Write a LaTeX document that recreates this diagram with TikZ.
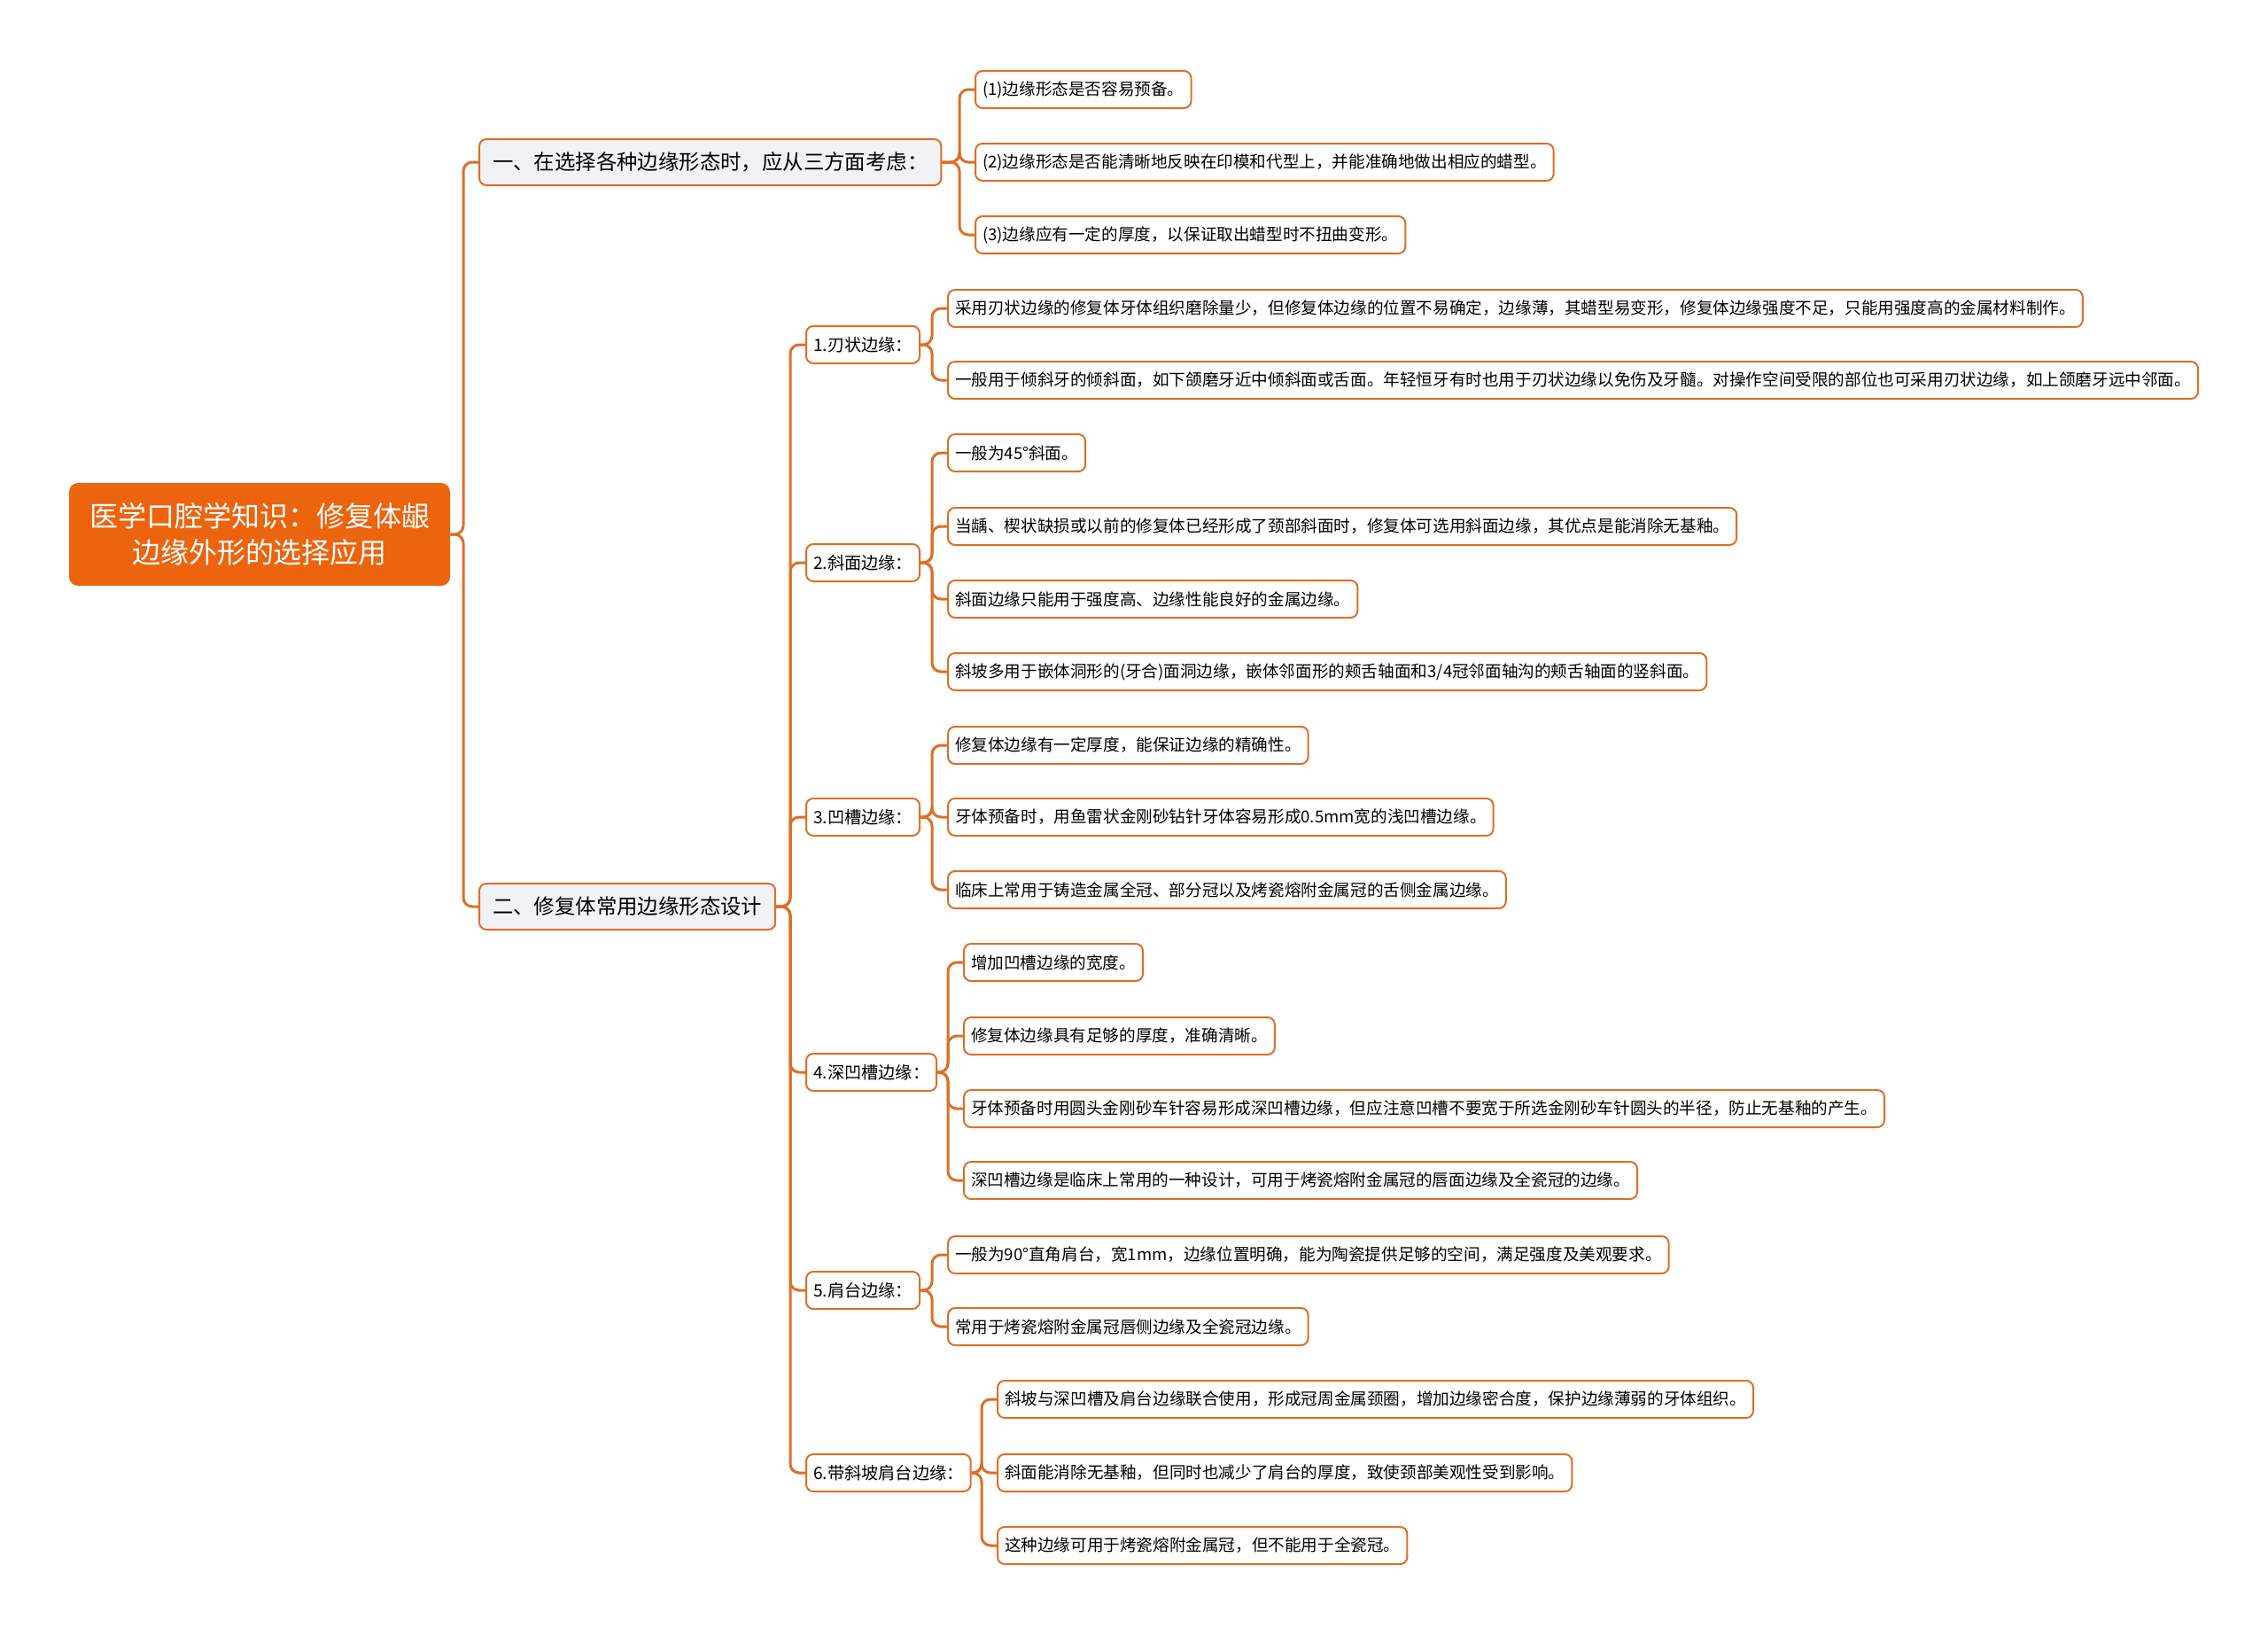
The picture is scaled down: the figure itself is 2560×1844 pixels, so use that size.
\documentclass[tikz,border=0pt]{standalone}
\usepackage{fontspec}
\setmainfont{Noto Sans CJK SC}
\usepackage{tikz}

\definecolor{lineorange}{RGB}{222,110,38}
\definecolor{rootorange}{RGB}{236,100,14}
\definecolor{branchgray}{RGB}{240,242,245}

\tikzset{
    rootbox/.style={fill=rootorange, text=white, rounded corners=5pt,
        minimum width=215pt, minimum height=58pt, align=center,
        font=\fontsize{16}{20.5}\selectfont},
    branchbox/.style={draw=lineorange, fill=branchgray, line width=1pt,
        rounded corners=4pt, minimum height=26pt, inner xsep=7.5pt, anchor=west,
        font=\fontsize{11.7}{14}\selectfont},
    subbox/.style={draw=lineorange, fill=white, line width=1pt,
        rounded corners=4pt, minimum height=21pt, inner xsep=4pt, anchor=west,
        font=\fontsize{9.6}{12}\selectfont},
    leafbox/.style={subbox, font=\fontsize{9.3}{12}\selectfont},
    link/.style={draw=lineorange, line width=1.5pt, rounded corners=5pt},
}

\begin{document}
\begin{tikzpicture}[x=0.5pt, y=-0.5pt]
    \useasboundingbox (0,0) rectangle (2560,1844);

    % root and main branches
    \node[rootbox] (root) at (293,603) {医学口腔学知识：修复体龈\\边缘外形的选择应用};
    \node[branchbox] (b1) at (540,183) {一、在选择各种边缘形态时，应从三方面考虑：};
    \node[branchbox] (b2) at (540,1023) {二、修复体常用边缘形态设计};

    % first branch
    \node[leafbox] (l11) at (1100,101) {(1)边缘形态是否容易预备。};
    \node[leafbox] (l12) at (1100,183) {(2)边缘形态是否能清晰地反映在印模和代型上，并能准确地做出相应的蜡型。};
    \node[leafbox] (l13) at (1100,265) {(3)边缘应有一定的厚度，以保证取出蜡型时不扭曲变形。};

    % kinds of margins
    \node[subbox] (s1) at (909,389) {1.刃状边缘：};
    \node[subbox] (s2) at (909,635) {2.斜面边缘：};
    \node[subbox] (s3) at (909,922) {3.凹槽边缘：};
    \node[subbox] (s4) at (909,1210) {4.深凹槽边缘：};
    \node[subbox] (s5) at (909,1456) {5.肩台边缘：};
    \node[subbox] (s6) at (909,1662) {6.带斜坡肩台边缘：};

    \node[leafbox] (l1a) at (1069,348) {采用刃状边缘的修复体牙体组织磨除量少，但修复体边缘的位置不易确定，边缘薄，其蜡型易变形，修复体边缘强度不足，只能用强度高的金属材料制作。};
    \node[leafbox] (l1b) at (1069,429) {一般用于倾斜牙的倾斜面，如下颌磨牙近中倾斜面或舌面。年轻恒牙有时也用于刃状边缘以免伤及牙髓。对操作空间受限的部位也可采用刃状边缘，如上颌磨牙远中邻面。};

    \node[leafbox] (l2a) at (1069,511) {一般为45°斜面。};
    \node[leafbox] (l2b) at (1069,594) {当龋、楔状缺损或以前的修复体已经形成了颈部斜面时，修复体可选用斜面边缘，其优点是能消除无基釉。};
    \node[leafbox] (l2c) at (1069,676) {斜面边缘只能用于强度高、边缘性能良好的金属边缘。};
    \node[leafbox] (l2d) at (1069,758) {斜坡多用于嵌体洞形的(牙合)面洞边缘，嵌体邻面形的颊舌轴面和3/4冠邻面轴沟的颊舌轴面的竖斜面。};

    \node[leafbox] (l3a) at (1069,841) {修复体边缘有一定厚度，能保证边缘的精确性。};
    \node[leafbox] (l3b) at (1069,922) {牙体预备时，用鱼雷状金刚砂钻针牙体容易形成0.5mm宽的浅凹槽边缘。};
    \node[leafbox] (l3c) at (1069,1004) {临床上常用于铸造金属全冠、部分冠以及烤瓷熔附金属冠的舌侧金属边缘。};

    \node[leafbox] (l4a) at (1087,1086) {增加凹槽边缘的宽度。};
    \node[leafbox] (l4b) at (1087,1169) {修复体边缘具有足够的厚度，准确清晰。};
    \node[leafbox] (l4c) at (1087,1251) {牙体预备时用圆头金刚砂车针容易形成深凹槽边缘，但应注意凹槽不要宽于所选金刚砂车针圆头的半径，防止无基釉的产生。};
    \node[leafbox] (l4d) at (1087,1332) {深凹槽边缘是临床上常用的一种设计，可用于烤瓷熔附金属冠的唇面边缘及全瓷冠的边缘。};

    \node[leafbox] (l5a) at (1069,1416) {一般为90°直角肩台，宽1mm，边缘位置明确，能为陶瓷提供足够的空间，满足强度及美观要求。};
    \node[leafbox] (l5b) at (1069,1497) {常用于烤瓷熔附金属冠唇侧边缘及全瓷冠边缘。};

    \node[leafbox] (l6a) at (1125,1579) {斜坡与深凹槽及肩台边缘联合使用，形成冠周金属颈圈，增加边缘密合度，保护边缘薄弱的牙体组织。};
    \node[leafbox] (l6b) at (1125,1662) {斜面能消除无基釉，但同时也减少了肩台的厚度，致使颈部美观性受到影响。};
    \node[leafbox] (l6c) at (1125,1744) {这种边缘可用于烤瓷熔附金属冠，但不能用于全瓷冠。};

    % connectors
    \foreach \p/\c in {root/b1, root/b2, b1/l11, b1/l12, b1/l13,
        b2/s1, b2/s2, b2/s3, b2/s4, b2/s5, b2/s6,
        s1/l1a, s1/l1b, s2/l2a, s2/l2b, s2/l2c, s2/l2d,
        s3/l3a, s3/l3b, s3/l3c, s4/l4a, s4/l4b, s4/l4c, s4/l4d,
        s5/l5a, s5/l5b, s6/l6a, s6/l6b, s6/l6c}
        \draw[link] (\p.east) -| ([xshift=-8.5pt]\c.west) -- (\c.west);
\end{tikzpicture}
\end{document}
